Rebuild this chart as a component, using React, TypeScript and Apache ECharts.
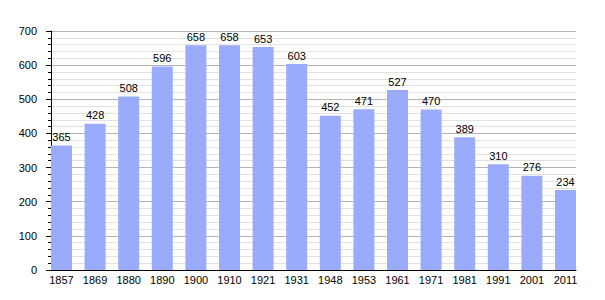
import React, { useEffect, useRef } from "react";
import * as echarts from "echarts";

const years = ["1857", "1869", "1880", "1890", "1900", "1910", "1921", "1931", "1948", "1953", "1961", "1971", "1981", "1991", "2001", "2011"];
const population = [365, 428, 508, 596, 658, 658, 653, 603, 452, 471, 527, 470, 389, 310, 276, 234];
const yTicks = { min: 0, max: 700, interval: 100 };

export default function App() {
  const ref = useRef<HTMLDivElement>(null);
  useEffect(() => {
    if (!ref.current) return;
    const chart = echarts.init(ref.current, null, { renderer: "svg" });
    const idx = years.map((_, i) => i);
    const half = 0.312;
    chart.setOption({
      animation: false,
      grid: { left: 51, right: 29, top: 31, bottom: 30 },
      xAxis: {
        type: "value",
        min: -half,
        max: years.length - 1 + half,
        axisLine: { show: true, onZero: false, lineStyle: { color: "#000", width: 1 } },
        axisTick: { show: false },
        splitLine: { show: false },
        axisLabel: {
          customValues: idx,
          formatter: (v: number) => years[Math.round(v)] ?? "",
          color: "#000",
          fontSize: 11,
          fontFamily: "Liberation Sans, Arial, sans-serif",
          margin: 4,
        },
      },
      yAxis: {
        type: "value",
        min: yTicks.min,
        max: yTicks.max,
        interval: yTicks.interval,
        axisLine: { show: true, onZero: false, lineStyle: { color: "#000", width: 1 } },
        axisTick: { show: true, length: 5, lineStyle: { color: "#000" } },
        minorTick: { show: true, splitNumber: 5, length: 3, lineStyle: { color: "#000" } },
        splitLine: { show: true, lineStyle: { color: "#b4b4b4", width: 1 } },
        minorSplitLine: { show: true, lineStyle: { color: "#e2e2e2", width: 1 } },
        axisLabel: {
          color: "#000",
          fontSize: 11,
          fontFamily: "Liberation Sans, Arial, sans-serif",
          margin: 14,
        },
      },
      series: [
        {
          type: "bar",
          data: population.map((v, i) => [i, v]),
          barWidth: 21,
          itemStyle: { color: "#9aabfc" },
          label: {
            show: true,
            position: "top",
            distance: 3,
            color: "#000",
            fontSize: 11,
            fontFamily: "Liberation Sans, Arial, sans-serif",
            formatter: (p: any) => String(p.value[1]),
          },
        },
      ],
    });
    return () => chart.dispose();
  }, []);
  return (
    <div
      ref={ref}
      style={{ position: "fixed", left: 0, top: 0, width: 605, height: 300, background: "#fff" }}
    />
  );
}
